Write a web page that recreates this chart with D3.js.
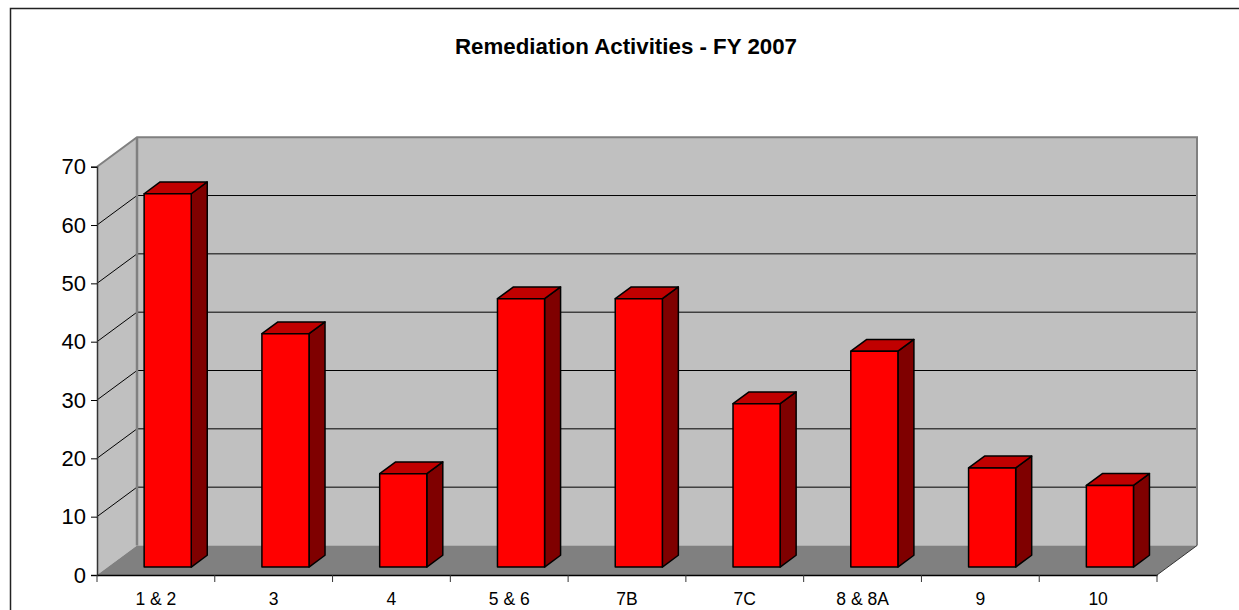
<!DOCTYPE html>
<html>
<head>
<meta charset="utf-8">
<script src="https://cdn.jsdelivr.net/npm/d3@7"></script>
<style>
  body { margin: 0; background: #fff; }
  svg { display: block; font-family: Arial, "Liberation Sans", sans-serif; }
</style>
</head>
<body>
<div id="chart"></div>
<script>
const categories = ['1 & 2', '3', '4', '5 & 6', '7B', '7C', '8 & 8A', '9', '10'];
const activities = [64, 40, 16, 46, 46, 28, 37, 17, 14];
const yTicks = [0, 10, 20, 30, 40, 50, 60, 70];
const title = 'Remediation Activities - FY 2007';

const width = 1239, height = 610;
const plot = { left: 97, right: 1157, bottom: 575, top: 166.7 };
const depth = { dx: 40, dy: -29.5 };
const barFront = 0.27, barBack = 0.67, barWidth = 0.4;

const svg = d3.select('#chart').append('svg')
    .attr('width', width)
    .attr('height', height);

const x = d3.scaleBand().domain(categories).range([plot.left, plot.right]).padding(0);
const y = d3.scaleLinear().domain([0, 70]).range([plot.bottom, plot.top]);

// project a point on the front plane back by fraction d of the depth
const px = (sx, d) => sx + d * depth.dx;
const py = (sy, d) => sy + d * depth.dy;
const pts = arr => arr.map(p => p.join(',')).join(' ');

// chart border
svg.append('rect')
    .attr('x', 10.5).attr('y', 8.5)
    .attr('width', 1300).attr('height', 700)
    .attr('fill', 'none').attr('stroke', '#222').attr('stroke-width', 1.5);

svg.append('text')
    .attr('x', 626).attr('y', 54)
    .attr('text-anchor', 'middle')
    .attr('font-size', 22.3).attr('font-weight', 'bold')
    .text(title);

const walls = svg.append('g');
const y0 = y(0), yTop = y(70), xL = plot.left, xR = plot.right;

// back wall
walls.append('polygon')
    .attr('points', pts([[px(xL, 1), py(y0, 1)], [px(xL, 1), py(yTop, 1)], [px(xR, 1), py(yTop, 1)], [px(xR, 1), py(y0, 1)]]))
    .attr('fill', '#c0c0c0');
// left side wall
walls.append('polygon')
    .attr('points', pts([[xL, y0], [xL, yTop], [px(xL, 1), py(yTop, 1)], [px(xL, 1), py(y0, 1)]]))
    .attr('fill', '#c0c0c0');
// floor
walls.append('polygon')
    .attr('points', pts([[xL, y0], [px(xL, 1), py(y0, 1)], [px(xR, 1), py(y0, 1)], [xR, y0]]))
    .attr('fill', '#808080');

// gridlines on the back and side walls
const grid = yTicks.filter(v => v > 0 && v < 70);
walls.append('g').selectAll('line.back').data(grid).enter()
    .append('line')
    .attr('x1', px(xL, 1)).attr('x2', px(xR, 1))
    .attr('y1', d => py(y(d), 1)).attr('y2', d => py(y(d), 1))
    .attr('stroke', '#000').attr('stroke-width', 1);
walls.append('g').selectAll('line.side').data(grid).enter()
    .append('line')
    .attr('x1', xL).attr('x2', px(xL, 1))
    .attr('y1', d => y(d)).attr('y2', d => py(y(d), 1))
    .attr('stroke', '#000').attr('stroke-width', 1);

// wall edges
walls.append('polyline')
    .attr('points', pts([[xL, yTop], [px(xL, 1), py(yTop, 1)], [px(xR, 1), py(yTop, 1)], [px(xR, 1), py(y0, 1)]]))
    .attr('fill', 'none').attr('stroke', '#808080').attr('stroke-width', 2);
walls.append('line')
    .attr('x1', px(xL, 1)).attr('x2', px(xL, 1))
    .attr('y1', py(yTop, 1)).attr('y2', py(y0, 1))
    .attr('stroke', '#808080').attr('stroke-width', 2.5);
walls.append('line')
    .attr('x1', xR).attr('y1', y0).attr('x2', px(xR, 1)).attr('y2', py(y0, 1))
    .attr('stroke', '#333').attr('stroke-width', 1);

// bars
const bars = svg.append('g').selectAll('g').data(activities).enter().append('g')
    .attr('stroke', '#000').attr('stroke-width', 1.5).attr('stroke-linejoin', 'round');

function barGeom(d, i) {
    const c = x(categories[i]) + x.bandwidth() / 2 + 1;
    const hw = x.bandwidth() * barWidth / 2;
    return { l: c - hw, r: c + hw, b: y0, t: y(d) };
}
bars.append('polygon')
    .attr('fill', '#7f0000')
    .attr('points', (d, i) => {
        const g = barGeom(d, i);
        return pts([[px(g.r, barFront), py(g.b, barFront)], [px(g.r, barFront), py(g.t, barFront)],
                    [px(g.r, barBack), py(g.t, barBack)], [px(g.r, barBack), py(g.b, barBack)]]);
    });
bars.append('polygon')
    .attr('fill', '#c00000')
    .attr('points', (d, i) => {
        const g = barGeom(d, i);
        return pts([[px(g.l, barFront), py(g.t, barFront)], [px(g.l, barBack), py(g.t, barBack)],
                    [px(g.r, barBack), py(g.t, barBack)], [px(g.r, barFront), py(g.t, barFront)]]);
    });
bars.append('polygon')
    .attr('fill', '#ff0000')
    .attr('points', (d, i) => {
        const g = barGeom(d, i);
        return pts([[px(g.l, barFront), py(g.b, barFront)], [px(g.l, barFront), py(g.t, barFront)],
                    [px(g.r, barFront), py(g.t, barFront)], [px(g.r, barFront), py(g.b, barFront)]]);
    });

// y axis
const yAxis = svg.append('g')
    .attr('transform', `translate(${xL},0)`)
    .call(d3.axisLeft(y).tickValues(yTicks).tickSize(6).tickPadding(5));
yAxis.select('.domain').attr('stroke', '#333').attr('stroke-width', 1.5);
yAxis.selectAll('.tick line').attr('stroke', '#000');
yAxis.selectAll('.tick text').attr('font-size', 22).attr('fill', '#000')
    .attr('font-family', 'Arial, "Liberation Sans", sans-serif');

// x axis: labels at band centres, ticks at band edges
const xAxis = svg.append('g')
    .attr('transform', `translate(0,${y0})`)
    .call(d3.axisBottom(x).tickSize(0).tickPadding(18));
xAxis.select('.domain').attr('stroke', '#000').attr('stroke-width', 1.5);
xAxis.selectAll('.tick text').attr('font-size', 17.5).attr('fill', '#000')
    .attr('font-family', 'Arial, "Liberation Sans", sans-serif');
const edges = categories.map(c => x(c)).concat([xR]);
xAxis.append('g').selectAll('line').data(edges).enter()
    .append('line')
    .attr('x1', d => d).attr('x2', d => d)
    .attr('y1', 0).attr('y2', 7)
    .attr('stroke', '#333').attr('stroke-width', 1);
</script>
</body>
</html>
